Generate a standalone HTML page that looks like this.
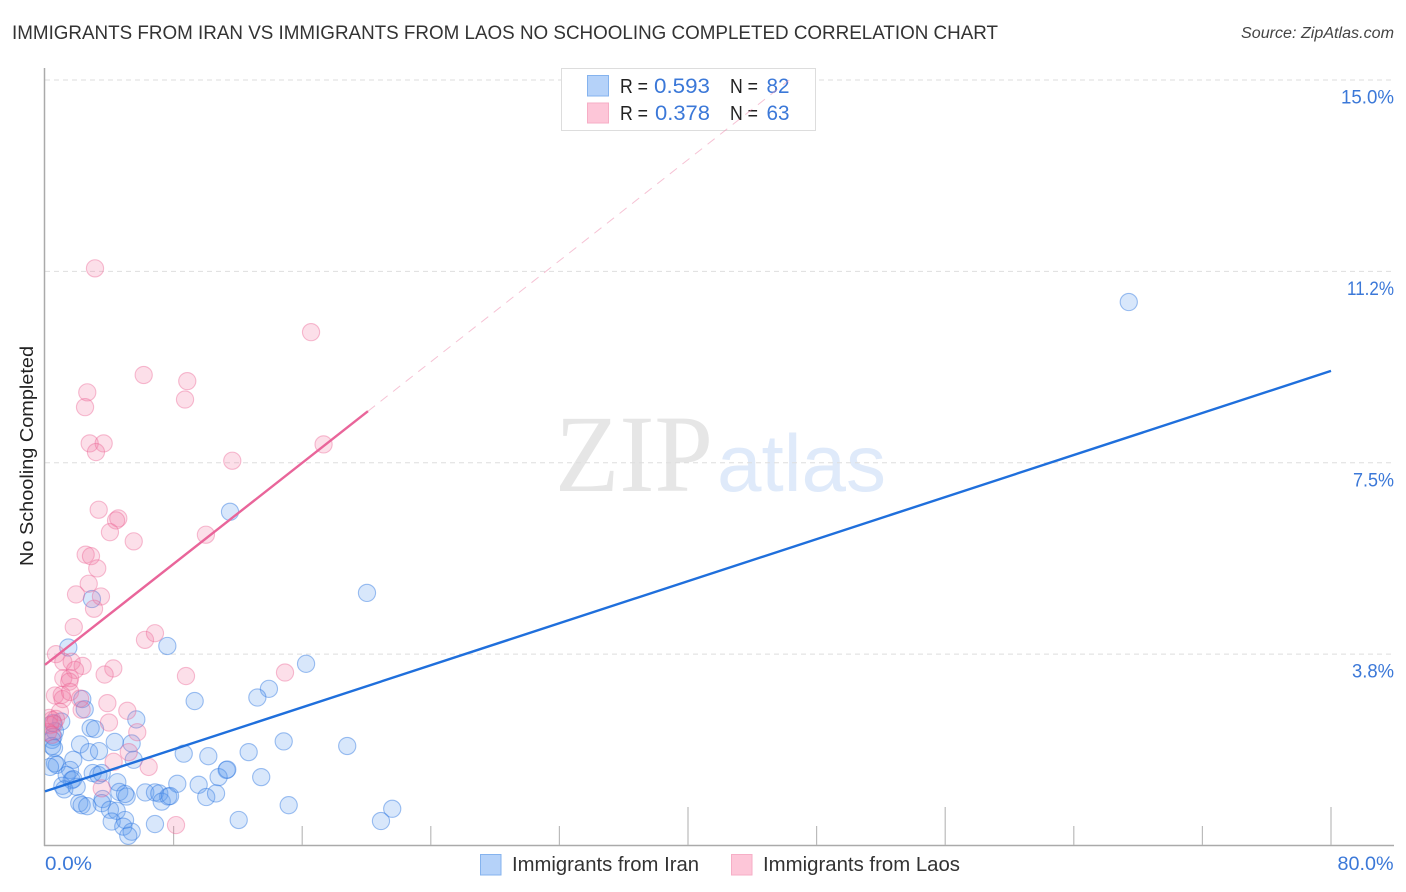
<!DOCTYPE html>
<html><head><meta charset="utf-8"><title>Immigrants from Iran vs Immigrants from Laos</title>
<style>
html,body{margin:0;padding:0;background:#fff;}
svg{display:block;font-family:"Liberation Sans",sans-serif;}
</style></head>
<body>
<svg id="chart" width="1406" height="892" viewBox="0 0 1406 892" xmlns="http://www.w3.org/2000/svg">
<defs><clipPath id="plot-clip"><rect x="45" y="60" width="1350" height="785"/></clipPath></defs>
<text x="12" y="39" font-size="19" fill="#333" textLength="986" lengthAdjust="spacingAndGlyphs">IMMIGRANTS FROM IRAN VS IMMIGRANTS FROM LAOS NO SCHOOLING COMPLETED CORRELATION CHART</text>
<text x="1241" y="38" font-size="15.5" font-style="italic" fill="#444" textLength="153" lengthAdjust="spacingAndGlyphs">Source: ZipAtlas.com</text>
<g>
<text x="555" y="491" font-family="'Liberation Serif',serif" font-size="110" fill="#e6e6e6" textLength="158" lengthAdjust="spacingAndGlyphs">ZIP</text>
<text x="717" y="491" font-size="81" fill="#dfeafa" textLength="169" lengthAdjust="spacingAndGlyphs">atlas</text>
</g>
<g id="grid"></g>
<g id="axes"></g>
<g id="points" clip-path="url(#plot-clip)"></g>
<g id="trends"></g>
<g>
<rect x="561.5" y="68.5" width="254" height="62" fill="#fff" stroke="#ddd" stroke-width="1"/>
<rect x="587.5" y="75.5" width="21" height="20.5" fill="#b5d2f9" stroke="#85b3ee" stroke-width="1"/>
<rect x="587.5" y="103" width="21" height="20" fill="#fdc6d8" stroke="#f6aec6" stroke-width="1"/>
<g font-size="20" fill="#222">
<text x="620" y="93" textLength="28" lengthAdjust="spacingAndGlyphs">R =</text>
<text x="654" y="93" fill="#3b78d8" font-size="21" textLength="56" lengthAdjust="spacingAndGlyphs">0.593</text>
<text x="730" y="93" textLength="28" lengthAdjust="spacingAndGlyphs">N =</text>
<text x="766.5" y="93" fill="#3b78d8" font-size="21" textLength="23" lengthAdjust="spacingAndGlyphs">82</text>
<text x="620" y="120" textLength="28" lengthAdjust="spacingAndGlyphs">R =</text>
<text x="655" y="120" fill="#3b78d8" font-size="21" textLength="55" lengthAdjust="spacingAndGlyphs">0.378</text>
<text x="730" y="120" textLength="28" lengthAdjust="spacingAndGlyphs">N =</text>
<text x="766.5" y="120" fill="#3b78d8" font-size="21" textLength="23" lengthAdjust="spacingAndGlyphs">63</text>
</g>
</g>
<g id="trends-top"></g>
<g id="labels" font-size="19" fill="#3b78d8"></g>
<text transform="translate(33,456) rotate(-90)" font-size="18" fill="#222" text-anchor="middle" textLength="220" lengthAdjust="spacingAndGlyphs">No Schooling Completed</text>
<g>
<rect x="480.5" y="854.5" width="20.5" height="20.5" fill="#b5d2f9" stroke="#85b3ee" stroke-width="1"/>
<text x="512" y="871" font-size="20" fill="#333" textLength="187" lengthAdjust="spacingAndGlyphs">Immigrants from Iran</text>
<rect x="731.5" y="854.5" width="20.5" height="20.5" fill="#fdc6d8" stroke="#f6aec6" stroke-width="1"/>
<text x="763" y="871" font-size="20" fill="#333" textLength="197" lengthAdjust="spacingAndGlyphs">Immigrants from Laos</text>
</g>
</svg>
<script>
const iranX = [1.45,7.61,2.32,2.47,9.31,5.68,1.01,2.84,3.11,0.50,0.62,0.52,4.34,2.18,2.74,3.36,5.39,5.52,1.76,0.44,0.44,0.56,0.62,0.73,0.31,1.56,2.97,3.32,3.53,1.35,1.66,1.76,1.08,1.20,1.97,4.50,8.63,10.16,11.30,10.80,8.23,9.56,10.03,10.64,6.24,6.84,7.11,7.26,7.67,7.78,4.62,5.08,4.98,3.59,3.53,2.13,2.28,2.63,4.04,4.46,4.15,4.98,4.87,5.39,5.18,6.84,16.24,13.93,13.21,14.85,18.80,12.67,11.34,13.45,15.16,12.05,21.60,20.90,67.42,11.51,20.03,2.92];
const iranY = [3.88,3.91,2.87,2.67,2.83,2.47,2.43,2.30,2.28,2.40,2.24,2.13,2.03,1.98,1.83,1.85,2.00,1.68,1.68,2.07,1.95,1.91,1.61,1.58,1.54,1.48,1.42,1.38,1.42,1.38,1.28,1.30,1.17,1.10,1.15,1.24,1.80,1.75,1.48,1.34,1.21,1.19,0.95,1.02,1.04,1.04,1.02,0.86,0.96,0.97,1.05,0.96,1.01,0.91,0.83,0.83,0.79,0.77,0.70,0.68,0.47,0.50,0.37,0.27,0.19,0.42,3.56,3.07,2.90,2.04,1.95,1.83,1.49,1.34,0.79,0.50,0.72,0.48,10.65,6.54,4.95,4.83];
const laosX = [3.34,4.56,4.42,4.04,5.52,10.01,2.53,2.86,3.25,2.72,1.93,3.48,3.05,1.79,6.22,6.84,3.11,16.55,6.14,8.85,8.71,2.63,2.49,2.78,3.65,3.17,11.65,17.33,0.68,1.14,1.66,2.34,1.87,4.25,3.71,8.77,1.14,1.56,1.51,0.62,1.04,1.10,1.56,2.28,2.18,3.88,5.12,0.93,3.98,5.74,5.21,4.27,6.45,3.53,8.15,14.93,0.25,0.44,0.68,0.31,0.56,0.19,0.44];
const laosY = [6.58,6.41,6.37,6.14,5.96,6.09,5.70,5.67,5.43,5.13,4.92,4.88,4.64,4.28,4.03,4.16,11.31,10.06,9.22,9.10,8.74,8.88,8.59,7.88,7.88,7.71,7.54,7.86,3.75,3.60,3.60,3.52,3.44,3.47,3.35,3.32,3.28,3.28,3.21,2.94,2.95,2.87,3.01,2.66,2.88,2.79,2.64,2.62,2.41,2.22,1.83,1.64,1.54,1.12,0.40,3.39,2.50,2.46,2.48,2.36,2.38,2.22,2.17];
const iranTrendX = [0,80];
const iranTrendY = [1.06,9.30];
const laosTrendX = [0,20.09];
const laosTrendY = [3.54,8.51];
const laosExtensionX = [20.09,46.3];
const laosExtensionY = [8.51,15];
const yTickValues = [3.75,7.5,11.25,15];
const yTickLabels = ["3.8%","7.5%","11.2%","15.0%"];
const xTickValues = [8,16,24,32,40,48,56,64,72,80];
const xLongTicks = [40,56,80];
const xEndValues = [0,80];
const xEndLabels = ["0.0%","80.0%"];

const NS = "http://www.w3.org/2000/svg";
const sx = v => 45 + v * 16.075;
const sy = v => 845.5 - v * 51.03;
const labelWidth = {"3.8%":42,"7.5%":41,"11.2%":47,"15.0%":53,"0.0%":47,"80.0%":56};
function mk(parent, tag, attrs) {
  const el = document.createElementNS(NS, tag);
  for (const k in attrs) el.setAttribute(k, attrs[k]);
  document.getElementById(parent).appendChild(el);
  return el;
}
yTickValues.forEach((v, i) => {
  const g = mk("grid", "line", {x1:45, x2:1394, y1:sy(v), y2:sy(v), stroke:"#dedede", "stroke-width":1, "stroke-dasharray":"5 4"});
  
  
  const t = mk("labels", "text", {x:1394 - labelWidth[yTickLabels[i]], y:sy(v)+23.5, textLength:labelWidth[yTickLabels[i]], lengthAdjust:"spacingAndGlyphs"});
  t.textContent = yTickLabels[i];
  
  
});
const yAxis = mk("axes", "line", {x1:44.5, x2:44.5, y1:68, y2:846, stroke:"#aaa", "stroke-width":1.5});


const xAxis = mk("axes", "line", {x1:44, x2:1394, y1:845.5, y2:845.5, stroke:"#aaa", "stroke-width":1.5});


xTickValues.forEach(v => {
  const top = xLongTicks.includes(v) ? 807 : 826;
  const tk = mk("axes", "line", {x1:sx(v), x2:sx(v), y1:top, y2:845, stroke:"#bbb", "stroke-width":1.2});
  
  
});
xEndValues.forEach((v, i) => {
  const w = labelWidth[xEndLabels[i]];
  const t = mk("labels", "text", {x: i === 0 ? 45 : 1393.5 - w, y: 870, textLength:w, lengthAdjust:"spacingAndGlyphs"});
  t.textContent = xEndLabels[i];
  
  
});
iranX.forEach((v, i) => {
  const c = mk("points", "circle", {cx:sx(v), cy:sy(iranY[i]), r:8.6, fill:"#5b9bf0", "fill-opacity":0.24, stroke:"#2f78e0", "stroke-opacity":0.46, "stroke-width":1.1});
  
  
});
laosX.forEach((v, i) => {
  const c = mk("points", "circle", {cx:sx(v), cy:sy(laosY[i]), r:8.6, fill:"#f47aa3", "fill-opacity":0.24, stroke:"#ea5f90", "stroke-opacity":0.4, "stroke-width":1.1});
  
  
});
const iranLine = mk("trends", "line", {x1:sx(iranTrendX[0]), y1:sy(iranTrendY[0]), x2:sx(iranTrendX[1]), y2:sy(iranTrendY[1]), stroke:"#1f6fdc", "stroke-width":2.4});


const laosLine = mk("trends", "line", {x1:sx(laosTrendX[0]), y1:sy(laosTrendY[0]), x2:sx(laosTrendX[1]), y2:sy(laosTrendY[1]), stroke:"#e9659a", "stroke-width":2.4});


const laosExt = mk("trends-top", "line", {x1:sx(laosExtensionX[0]), y1:sy(laosExtensionY[0]), x2:sx(laosExtensionX[1]), y2:sy(laosExtensionY[1]), stroke:"#ee8fb0", "stroke-width":1, "stroke-opacity":0.55, "stroke-dasharray":"9 7"});


</script>
</body></html>
